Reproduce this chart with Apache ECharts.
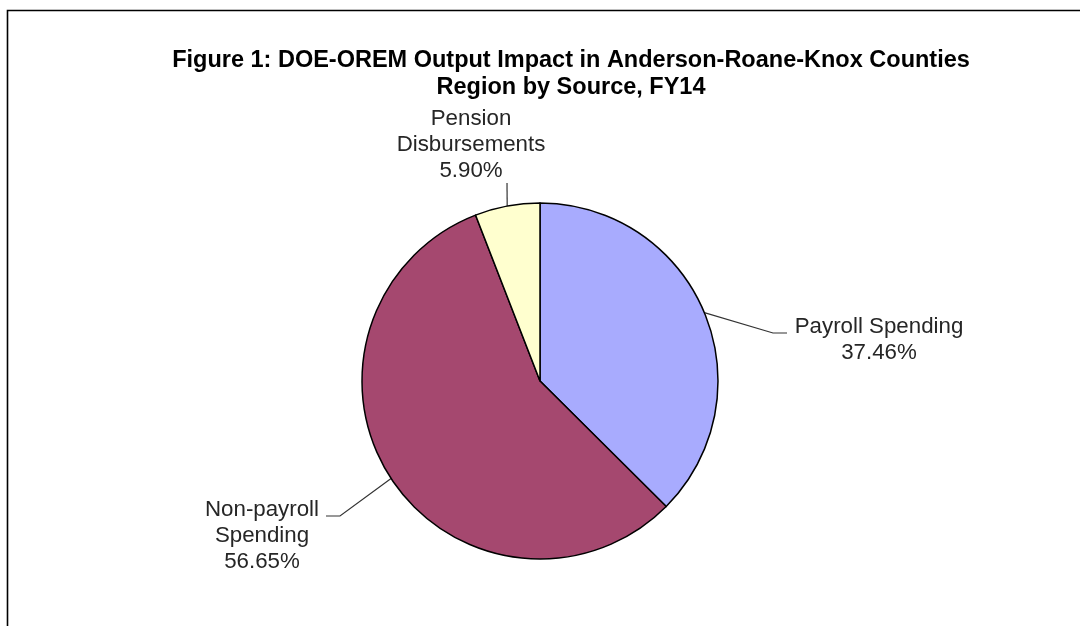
<!DOCTYPE html>
<html>
<head>
<meta charset="utf-8">
<title>DOE-OREM Output Impact</title>
<script src="https://cdn.jsdelivr.net/npm/echarts@6/dist/echarts.min.js"></script>
<style>
  html, body { margin: 0; padding: 0; background: #fff; }
  #chart { width: 1080px; height: 626px; }
</style>
</head>
<body>
<div id="chart"></div>
<script>
// Output impact shares by source (percent), clockwise from 12 o'clock
const sources = ['Payroll Spending', 'Non-payroll Spending', 'Pension Disbursements'];
const labelNames = ['Payroll Spending', 'Non-payroll\nSpending', 'Pension\nDisbursements'];
const shares = [37.46, 56.65, 5.90];
const colors = ['#a8abfe', '#a5486f', '#ffffcf'];

// Label placement: text centre plus where the leader line bends and ends
const labelSpots = [
  { x: 879, y: 340, bend: [773, 333], end: [787, 333] },
  { x: 262, y: 536, bend: [340, 516], end: [326, 516] },
  { x: 471, y: 145, bend: null, end: [507, 183] }
];

const chart = echarts.init(document.getElementById('chart'), null, { renderer: 'canvas' });

chart.setOption({
  animation: false,
  backgroundColor: '#ffffff',
  title: {
    text: 'Figure 1: DOE-OREM Output Impact in Anderson-Roane-Knox Counties\nRegion by Source, FY14',
    left: 566,
    top: 42,
    textAlign: 'center',
    textStyle: {
      fontFamily: 'Liberation Sans, Arial, sans-serif',
      fontSize: 23.5,
      fontWeight: 'bold',
      color: '#000',
      lineHeight: 27
    }
  },
  graphic: [{
    type: 'polyline',
    silent: true,
    shape: { points: [[7.5, 626], [7.5, 10.5], [1080, 10.5]] },
    style: { stroke: '#000', lineWidth: 1.6, fill: null }
  }],
  series: [{
    type: 'pie',
    center: [540, 381],
    radius: 178,
    startAngle: 90,
    clockwise: true,
    avoidLabelOverlap: false,
    itemStyle: { borderColor: '#000', borderWidth: 1.5 },
    emphasis: { disabled: true },
    label: {
      show: true,
      position: 'outside',
      fontFamily: 'Liberation Sans, Arial, sans-serif',
      fontSize: 22.3,
      lineHeight: 26,
      color: '#262626',
      align: 'center',
      formatter: function (p) {
        return labelNames[p.dataIndex] + '\n' + p.value.toFixed(2) + '%';
      }
    },
    labelLine: {
      show: true,
      length: 20,
      length2: 10,
      smooth: false,
      lineStyle: { color: '#333', width: 1.2 }
    },
    labelLayout: function (params) {
      const s = labelSpots[params.dataIndex];
      const start = params.labelLinePoints ? params.labelLinePoints[0] : s.end;
      const pts = s.bend ? [start, s.bend, s.end] : [start, s.end, s.end];
      return {
        x: s.x,
        y: s.y,
        align: 'center',
        verticalAlign: 'middle',
        labelLinePoints: pts
      };
    },
    data: sources.map(function (name, i) {
      return { name: name, value: shares[i], itemStyle: { color: colors[i] } };
    })
  }]
});
</script>
</body>
</html>
